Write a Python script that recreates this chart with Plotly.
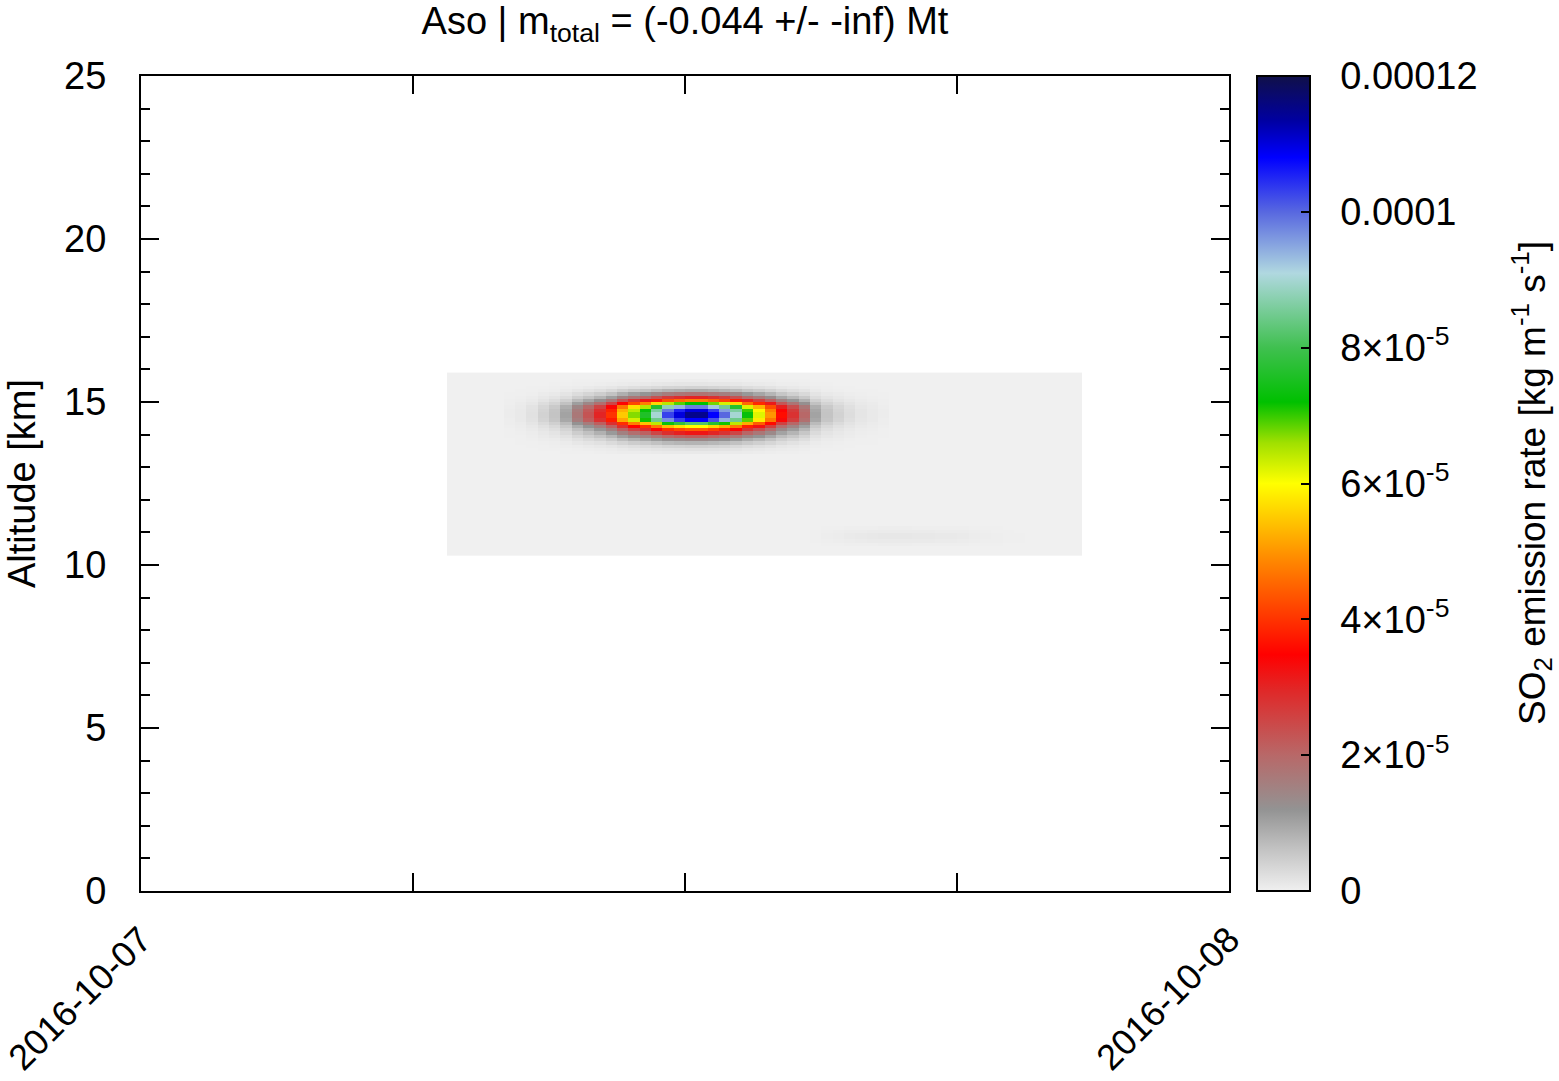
import numpy as np
import pandas as pd
import plotly.graph_objects as go

# ---- grid of the emission field (15-min x 0.1-km cells) ----
grid_start = "2016-10-07 06:52:30"   # centre of first time cell
n_time_cells = 56
alt_first_centre = 10.35             # km, centre of lowest altitude cell
n_alt_cells = 56

# ---- main plume: values read along its peak row / peak column (1e-6 kg m-1 s-1) ----
plume_time_first_cell = 5
plume_time_profile = [0.5, 1, 2, 4, 6, 10, 17, 23, 30, 40, 55, 67, 76, 90, 103, 110, 115,
                      115, 108, 100, 90, 73, 62, 50, 36, 28, 20, 10, 6, 4, 2.5, 1.5, 1, 0.5]
plume_alt_first_cell = 31
plume_alt_profile = [1, 2, 4, 8, 14, 22, 32, 44, 60, 82, 108, 115, 115, 110, 98, 72, 48,
                     30, 18, 9, 4, 1.5, 0.5]

# ---- faint secondary plume near 11 km ----
faint_time_first_cell = 32
faint_time_profile = [0.2, 0.4, 0.6, 0.8, 1.0, 1.1, 1.2, 1.2, 1.2, 1.1, 1.1, 1.0, 0.9, 0.8, 0.6, 0.4, 0.3, 0.2, 0.1]
faint_alt_first_cell = 3
faint_alt_profile = [0.3, 0.7, 1.0, 1.0, 0.6, 0.3]

# ---- axes / colorbar ticks ----
x_tick_vals = ["2016-10-07 00:00", "2016-10-07 06:00", "2016-10-07 12:00",
               "2016-10-07 18:00", "2016-10-08 00:00"]
x_tick_text = ["2016-10-07", "", "", "", "2016-10-08"]
y_tick_vals = [0, 5, 10, 15, 20, 25]
cb_tick_vals = [0, 2e-5, 4e-5, 6e-5, 8e-5, 1e-4, 1.2e-4]
cb_tick_text = ["0", "2×10<sup>-5</sup>", "4×10<sup>-5</sup>", "6×10<sup>-5</sup>",
                "8×10<sup>-5</sup>", "0.0001", "0.00012"]
z_max = 1.2e-4

title_text = "Aso | m<sub>total</sub> = (-0.044 +/- -inf) Mt"
cb_title = "SO<sub>2</sub> emission rate [kg m<sup>-1</sup> s<sup>-1</sup>]"

# ---- build the field ----
time_centres = pd.date_range(grid_start, periods=n_time_cells, freq="15min")
alt_centres = np.round(alt_first_centre + 0.1 * np.arange(n_alt_cells), 2)
z = np.zeros((n_alt_cells, n_time_cells))


def place(tp, t0, ap, a0):
    tp = np.array(tp) * 1e-6
    ap = np.array(ap) / max(ap)
    z[a0:a0 + len(ap), t0:t0 + len(tp)] += np.outer(ap, tp)


place(plume_time_profile, plume_time_first_cell, plume_alt_profile, plume_alt_first_cell)
place(faint_time_profile, faint_time_first_cell, faint_alt_profile, faint_alt_first_cell)

colorscale = [
    [0.0, "#f0f0f0"], [0.054, "#c0c0c0"], [0.10, "#939393"], [0.167, "#b86868"],
    [0.246, "#e02828"], [0.29, "#ff0000"], [0.333, "#ff3300"], [0.406, "#ff8800"],
    [0.5, "#ffff00"], [0.55, "#a0e000"], [0.60, "#00c000"], [0.667, "#40c050"],
    [0.758, "#b0d8e0"], [0.833, "#5868e0"], [0.90, "#0000ff"], [0.946, "#0000a0"],
    [1.0, "#101048"],
]

font_family = "Liberation Sans, Arial, sans-serif"
fs = 38
fig_w, fig_h = 1559, 1081
plot_l, plot_r, plot_t, plot_b = 141, 1229, 76, 891
plot_w = plot_r - plot_l
plot_h = plot_b - plot_t
cb_x0 = (1257 - plot_l) / plot_w

fig = go.Figure(go.Heatmap(
    x=time_centres, y=alt_centres, z=z, zmin=0, zmax=z_max,
    colorscale=colorscale, zsmooth=False,
    colorbar=dict(
        x=cb_x0, xanchor="left", xpad=0,
        y=0.5, yanchor="middle", len=1, lenmode="fraction", ypad=0,
        thickness=53, thicknessmode="pixels",
        outlinewidth=2, outlinecolor="black",
        tickvals=cb_tick_vals,
        ticktext=["\u00a0\u00a0" + t for t in cb_tick_text],
        ticks="inside", ticklen=10, tickwidth=1.5, tickcolor="black",
        tickfont=dict(size=fs, family=font_family, color="black"),
    ),
))

# left-side inside ticks on the colour bar
for v in cb_tick_vals[1:-1]:
    fig.add_shape(type="line", xref="paper", yref="paper",
                  x0=cb_x0, x1=cb_x0 + 10 / plot_w, y0=v / z_max, y1=v / z_max,
                  line=dict(color="black", width=1.5), layer="above")

# colour bar title (vertical, at the far right)
fig.add_annotation(text=cb_title, textangle=-90, showarrow=False,
                   xref="paper", yref="paper",
                   x=(1531 - plot_l) / plot_w, y=(plot_b - 483) / plot_h,
                   xanchor="center", yanchor="middle",
                   font=dict(size=37, family=font_family, color="black"))

fig.update_layout(
    width=fig_w, height=fig_h,
    margin=dict(l=plot_l, r=fig_w - plot_r, t=plot_t, b=fig_h - plot_b, autoexpand=False),
    plot_bgcolor="white", paper_bgcolor="white",
    font=dict(family=font_family, size=fs, color="black"),
    title=dict(text=title_text, x=0.5, xref="paper", xanchor="center",
               y=1 - 7 / fig_h, yref="container", yanchor="top",
               font=dict(size=fs, family=font_family, color="black")),
)
fig.update_xaxes(
    type="date", range=["2016-10-07 00:00", "2016-10-08 00:00"],
    tickvals=x_tick_vals, ticktext=x_tick_text, tickangle=-45,
    ticks="inside", ticklen=18, tickwidth=1.5, tickcolor="black",
    showline=True, linewidth=2, linecolor="black", mirror="ticks",
    showgrid=False, zeroline=False, ticklabelstandoff=11, automargin=False,
    ticklabeloverflow="allow",
    tickfont=dict(size=36),
)
fig.update_yaxes(
    range=[0, 25], tickvals=y_tick_vals,
    ticks="inside", ticklen=18, tickwidth=1.5, tickcolor="black",
    minor=dict(dtick=1, ticks="inside", ticklen=9, tickwidth=1.5, tickcolor="black", showgrid=False),
    showline=True, linewidth=2, linecolor="black", mirror="ticks",
    showgrid=False, zeroline=False, ticklabelstandoff=25, automargin=False,
    ticklabeloverflow="allow",
    tickfont=dict(size=fs),
    title=dict(text="Altitude [km]", font=dict(size=fs), standoff=17),
)

fig.write_html(
    "out.html",
    config={"displayModeBar": False},
    post_script="document.body.style.margin='0';document.body.style.overflow='hidden';",
)
